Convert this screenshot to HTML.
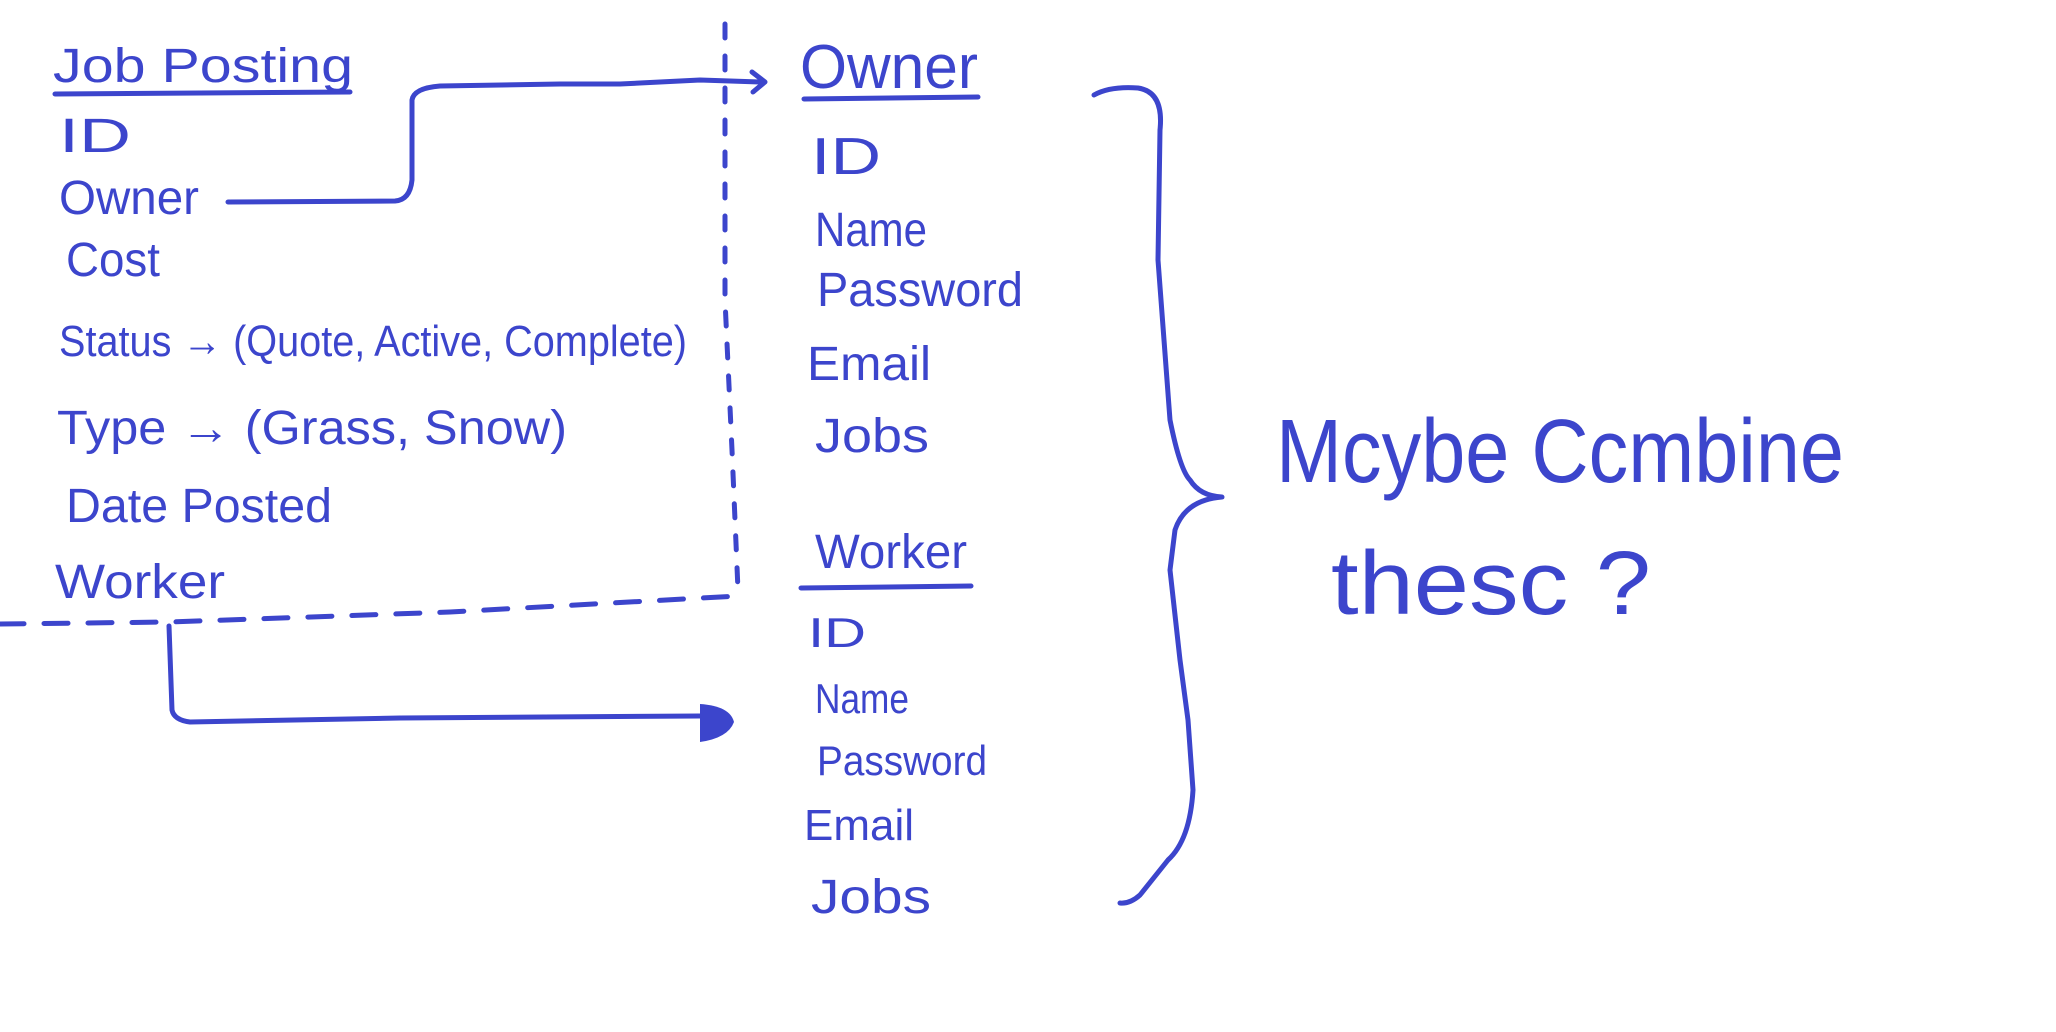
<!DOCTYPE html>
<html><head><style>html,body{margin:0;padding:0;background:#fff}</style></head>
<body>
<svg width="2056" height="1032" viewBox="0 0 2056 1032" xmlns="http://www.w3.org/2000/svg" style="display:block">
<g fill="#3c45cc" font-family="Liberation Sans, sans-serif" font-size="48" lengthAdjust="spacingAndGlyphs">
<text x="53" y="82" textLength="300" lengthAdjust="spacingAndGlyphs">Job  Posting</text>
<text x="59" y="152" textLength="72" lengthAdjust="spacingAndGlyphs">ID</text>
<text x="59" y="214" textLength="140" lengthAdjust="spacingAndGlyphs">Owner</text>
<text x="66" y="276" textLength="94" lengthAdjust="spacingAndGlyphs">Cost</text>
<text x="59" y="356" textLength="628" lengthAdjust="spacingAndGlyphs" font-size="44">Status → (Quote, Active, Complete)</text>
<text x="57" y="444" textLength="510" lengthAdjust="spacingAndGlyphs">Type → (Grass, Snow)</text>
<text x="66" y="522" textLength="266" lengthAdjust="spacingAndGlyphs">Date  Posted</text>
<text x="55" y="598" textLength="170" lengthAdjust="spacingAndGlyphs">Worker</text>

<text x="800" y="88" font-size="62" textLength="178" lengthAdjust="spacingAndGlyphs">Owner</text>
<text x="811" y="174" font-size="52" textLength="70" lengthAdjust="spacingAndGlyphs">ID</text>
<text x="815" y="246" textLength="112" lengthAdjust="spacingAndGlyphs">Name</text>
<text x="817" y="306" textLength="206" lengthAdjust="spacingAndGlyphs">Password</text>
<text x="807" y="380" textLength="124" lengthAdjust="spacingAndGlyphs">Email</text>
<text x="815" y="452" textLength="114" lengthAdjust="spacingAndGlyphs">Jobs</text>

<text x="815" y="568" textLength="152" lengthAdjust="spacingAndGlyphs">Worker</text>
<text x="808" y="647" font-size="42" textLength="58" lengthAdjust="spacingAndGlyphs">ID</text>
<text x="815" y="713" font-size="42" textLength="94" lengthAdjust="spacingAndGlyphs">Name</text>
<text x="817" y="775" font-size="42" textLength="170" lengthAdjust="spacingAndGlyphs">Password</text>
<text x="804" y="840" font-size="44" textLength="110" lengthAdjust="spacingAndGlyphs">Email</text>
<text x="811" y="913" textLength="120" lengthAdjust="spacingAndGlyphs">Jobs</text>

<text x="1276" y="482" font-size="90" textLength="568" lengthAdjust="spacingAndGlyphs">Mcybe  Ccmbine</text>
<text x="1331" y="614" font-size="90" textLength="320" lengthAdjust="spacingAndGlyphs">thesc  ?</text>
</g>
<g fill="none" stroke="#3c45cc" stroke-width="5" stroke-linecap="round" stroke-linejoin="round">
<path d="M55 94 L350 92"/>
<path d="M804 99 L978 97"/>
<path d="M801 588 L971 586"/>
<path d="M228 202 L395 201 Q410 200 412 180 L412 100 Q414 88 440 86 L560 84 L620 84 L700 80 L760 82"/>
<path d="M752 72 L765 82 L753 92"/>
<path d="M725 24 L725 300 L732 450 L738 590" stroke-dasharray="14 18"/>
<path d="M0 624 L170 622 L450 612 L738 596" stroke-dasharray="24 20"/>
<path d="M169 626 L172 710 Q174 720 190 722 L400 718 L700 716"/>
<path d="M1094 95 Q1110 86 1138 88 Q1164 92 1160 130 L1158 260 L1170 420 Q1180 470 1190 480 Q1200 496 1222 497 Q1185 500 1175 530 L1170 570 L1180 660 L1188 720 L1193 790 Q1190 840 1168 860 L1140 895 Q1130 904 1120 903"/>
</g>
<path d="M700 704 Q730 706 734 722 Q728 738 700 742 Z" fill="#3c45cc"/>
</svg>
</body></html>
